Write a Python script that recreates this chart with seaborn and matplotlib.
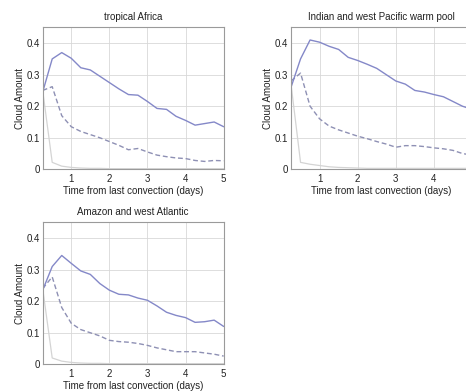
import matplotlib
matplotlib.use("Agg")
import matplotlib.pyplot as plt
import seaborn as sns
import pandas as pd

sns.set_theme(style="white")
plt.rcParams['font.family'] = ['Liberation Sans', 'DejaVu Sans']

days = [0.25, 0.5, 0.75, 1.0, 1.25, 1.5, 1.75, 2.0, 2.25, 2.5, 2.75, 3.0,
        3.25, 3.5, 3.75, 4.0, 4.25, 4.5, 4.75, 5.0]

africa_solid = [0.245, 0.35, 0.37, 0.352, 0.322, 0.315, 0.295, 0.275, 0.255, 0.237, 0.235, 0.215,
                0.193, 0.19, 0.168, 0.155, 0.14, 0.145, 0.15, 0.135]
africa_dash = [0.25, 0.262, 0.17, 0.135, 0.12, 0.11, 0.1, 0.088, 0.076, 0.062, 0.066, 0.055,
               0.045, 0.04, 0.036, 0.034, 0.028, 0.025, 0.028, 0.027]
africa_grey = [0.25, 0.022, 0.01, 0.006, 0.004, 0.003, 0.003, 0.002, 0.002, 0.002, 0.002, 0.002,
               0.002, 0.002, 0.002, 0.002, 0.002, 0.002, 0.002, 0.002]

pacific_solid = [0.26, 0.35, 0.41, 0.403, 0.39, 0.38, 0.355, 0.345, 0.333, 0.32, 0.3, 0.28,
                 0.27, 0.25, 0.245, 0.237, 0.23, 0.215, 0.2, 0.19]
pacific_dash = [0.28, 0.305, 0.2, 0.16, 0.137, 0.125, 0.115, 0.105, 0.097, 0.088, 0.08, 0.07,
                0.075, 0.075, 0.072, 0.068, 0.065, 0.06, 0.05, 0.045]
pacific_grey = [0.27, 0.022, 0.016, 0.012, 0.008, 0.006, 0.005, 0.004, 0.003, 0.003, 0.003, 0.003,
                0.003, 0.003, 0.003, 0.003, 0.003, 0.003, 0.003, 0.003]

amazon_solid = [0.235, 0.31, 0.345, 0.32, 0.296, 0.285, 0.256, 0.235, 0.222, 0.22, 0.21, 0.203,
                0.185, 0.165, 0.155, 0.148, 0.133, 0.135, 0.14, 0.12]
amazon_dash = [0.24, 0.277, 0.18, 0.13, 0.11, 0.1, 0.09, 0.076, 0.072, 0.07, 0.066, 0.06,
               0.052, 0.046, 0.04, 0.04, 0.04, 0.036, 0.032, 0.026]
amazon_grey = [0.24, 0.02, 0.01, 0.006, 0.004, 0.003, 0.003, 0.002, 0.002, 0.002, 0.002, 0.002,
               0.002, 0.002, 0.002, 0.002, 0.002, 0.002, 0.002, 0.002]

titles = ["tropical Africa", "Indian and west Pacific warm pool", "Amazon and west Atlantic"]
series = [(africa_solid, africa_dash, africa_grey),
          (pacific_solid, pacific_dash, pacific_grey),
          (amazon_solid, amazon_dash, amazon_grey)]
xticks = [1, 2, 3, 4, 5]
yticks = [0, 0.1, 0.2, 0.3, 0.4]
ytick_labels = ["0", "0.1", "0.2", "0.3", "0.4"]

fig = plt.figure(figsize=(4.66, 3.91), dpi=100)
positions = [[0.0916, 0.567, 0.3884, 0.363],
             [0.6245, 0.567, 0.3884, 0.363],
             [0.0916, 0.0683, 0.3884, 0.363]]

fs = 7
for i, (pos, title, (s, d, g)) in enumerate(zip(positions, titles, series)):
    ax = fig.add_axes(pos)
    df = pd.DataFrame({"days": days, "solid": s, "dash": d, "grey": g})
    sns.lineplot(data=df, x="days", y="grey", ax=ax, color="#d4d4d4", lw=0.9)
    sns.lineplot(data=df, x="days", y="dash", ax=ax, color="#8e90b4", lw=1.0, linestyle=(0, (3.5, 2)))
    sns.lineplot(data=df, x="days", y="solid", ax=ax, color="#8488c8", lw=1.0)
    ax.set_xlim(0.25, 5)
    ax.set_ylim(0, 0.45)
    ax.set_xticks(xticks)
    labels = [str(t) for t in xticks]
    if i == 1:
        labels[-1] = ""  # the reference crops this panel before the last label
    ax.set_xticklabels(labels, fontsize=fs)
    ax.set_yticks(yticks)
    ax.set_yticklabels(ytick_labels, fontsize=fs)
    ax.grid(True, color="#d8d8d8", lw=0.6)
    for sp in ax.spines.values():
        sp.set_color("#9a9a9a")
        sp.set_linewidth(0.8)
    ax.tick_params(axis="y", length=0, pad=2, colors="#222222")
    ax.tick_params(axis="x", length=0, pad=3.5, colors="#222222")
    ax.set_xlabel("Time from last convection (days)", fontsize=fs, labelpad=1, color="#222222")
    ax.set_ylabel("Cloud Amount", fontsize=fs, labelpad=1, color="#222222")
    ax.set_title(title, fontsize=7, pad=5, color="#222222")

fig.savefig("out.png", dpi=100)
